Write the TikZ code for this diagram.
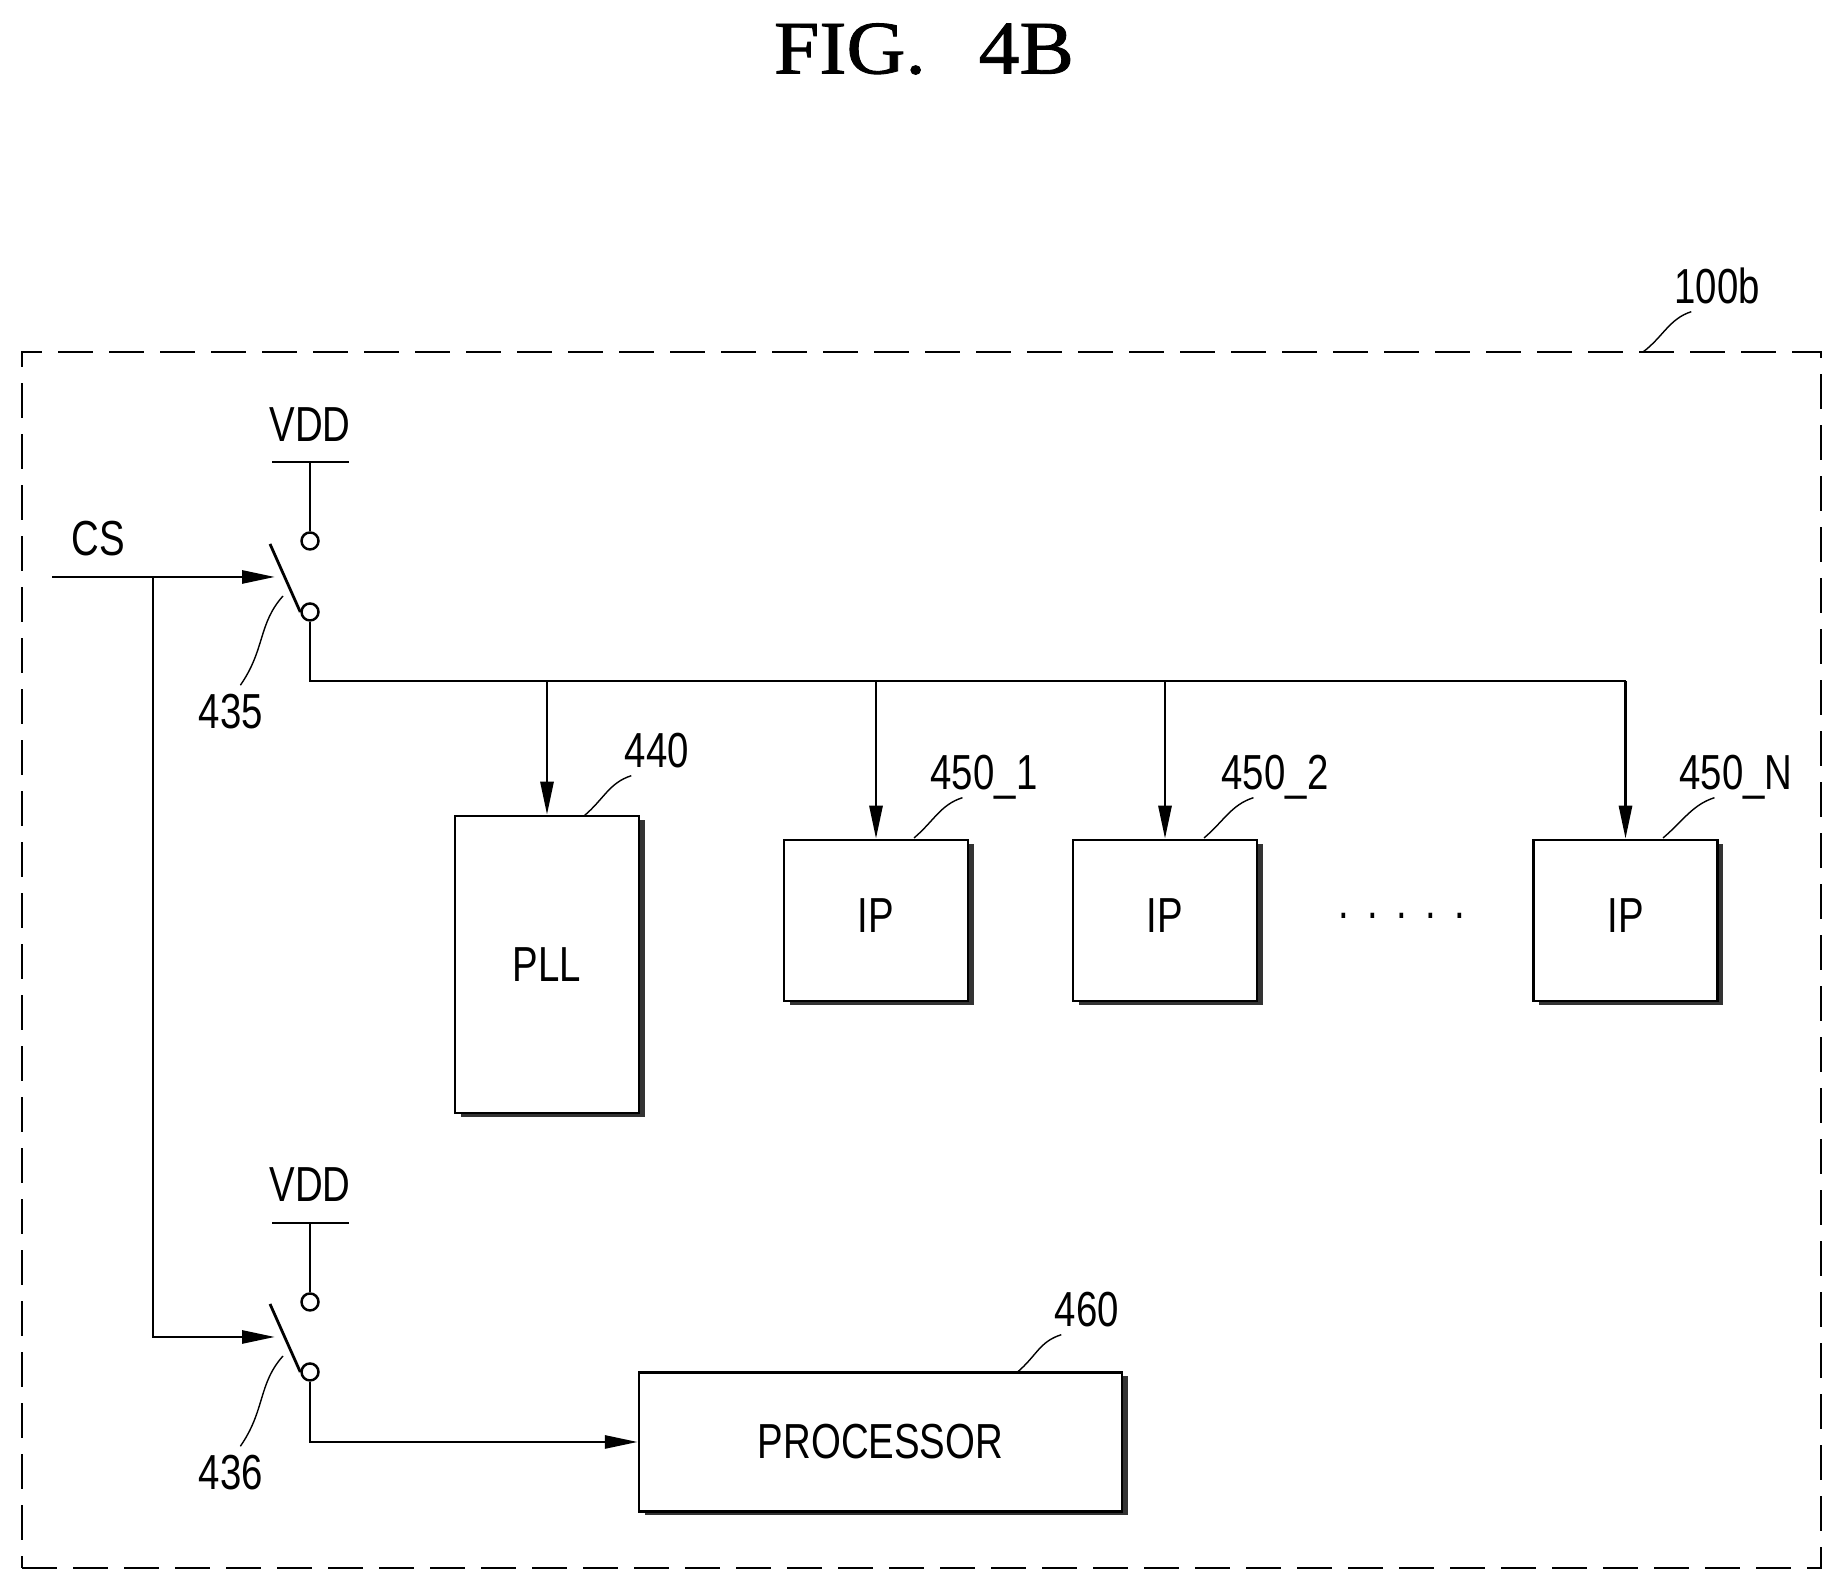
\documentclass[tikz,border=0pt]{standalone}
\usepackage{fontspec}
\setmainfont{Liberation Sans}[FakeStretch=0.78]
\newfontfamily\titlefont{Liberation Serif}[FakeStretch=1.08,FakeBold=1.2]
\usetikzlibrary{arrows.meta,shadows}

\begin{document}
\begin{tikzpicture}[
            >={Triangle[length=.33cm,width=.13cm]},
            wire/.style={line width=.8pt},
            lead/.style={line width=.4pt},
            lbl/.style={inner sep=2pt, text height=.36cm, text depth=0pt, font=\fontsize{14}{16}\selectfont},
            block/.style={draw, fill=white, line width=.7pt, inner sep=0pt, align=center,
                 font=\fontsize{14}{16}\selectfont,
                 general shadow={fill=black!80, shadow xshift=.055cm, shadow yshift=-.04cm}},
            ipblock/.style={block, minimum width=1.84cm, minimum height=1.61cm, text depth=.09cm},
            term/.style={draw, circle, fill=white, line width=.7pt, inner sep=0pt, minimum size=.17cm},
            chipframe/.style={draw, line width=.6pt, dash pattern=on .35cm off .16cm, inner sep=0pt,
                 minimum width=17.99cm, minimum height=12.16cm}
            ]
            \useasboundingbox (0,0) rectangle (18.42,15.89);

            % Title and outer frame
            \node[font=\titlefont\fontsize{21.5}{25}\selectfont] (title) at (9.24,15.40) {FIG.\hspace{.7em}4B};
            \node[chipframe] (chip) at (9.215,6.29) {};

            % Blocks with manual coordinates
            \node[block, minimum width=1.84cm, minimum height=2.97cm] (pll) at (5.47,6.245) {PLL};
            \node[ipblock] (ipa) at (8.76,6.685) {IP};
            \node[ipblock] (ipb) at (11.65,6.685) {IP};
            \node[ipblock] (ipn) at (16.255,6.685) {IP};
            \node[block, minimum width=4.83cm, minimum height=1.39cm] (proc) at (8.805,1.47) {PROCESSOR};
            \node[font=\fontsize{14}{16}\selectfont, inner sep=0pt, anchor=base] (dots) at (14.02,6.70) {.\hspace{5.2pt}.\hspace{5.2pt}.\hspace{5.2pt}.\hspace{5.2pt}.};

            % Switches
            \node[lbl] (vdda) at (3.10,11.65) {VDD};
            \node[term] (swat) at (3.10,10.48) {};
            \node[term] (swab) at (3.10,9.77) {};
            \node[lbl] (vddb) at (3.10,4.05) {VDD};
            \node[term] (swbt) at (3.10,2.87) {};
            \node[term] (swbb) at (3.10,2.17) {};
            \coordinate (vaa) at (2.72,11.27);
            \coordinate (vab) at (3.49,11.27);
            \coordinate (vba) at (2.72,3.66);
            \coordinate (vbb) at (3.49,3.66);
            \coordinate (swatip) at (2.70,10.45);
            \coordinate (swbtip) at (2.70,2.85);

            % Signal points
            \node[lbl] (cs) at (.98,10.51) {CS};
            \coordinate (csin) at (.52,10.12);
            \coordinate (csbr) at (1.53,10.12);
            \coordinate (swain) at (2.75,10.12);
            \coordinate (swbin) at (2.75,2.52);
            \coordinate (bus) at (3.10,9.08);

            % Reference numbers
            \node[lbl] (nchip) at (17.17,13.03) {100b};
            \node[lbl] (nsa) at (2.31,8.78) {435};
            \node[lbl] (nsb) at (2.31,1.17) {436};
            \node[lbl] (npll) at (6.57,8.39) {440};
            \node[lbl] (nipa) at (9.84,8.17) {450\_1};
            \node[lbl] (nipb) at (12.75,8.17) {450\_2};
            \node[lbl] (nipn) at (17.36,8.17) {450\_N};
            \node[lbl] (nproc) at (10.87,2.80) {460};

            % Leader ends
            \coordinate (lchip) at (16.43,12.37);
            \coordinate (lsa) at (2.83,9.93);
            \coordinate (lsb) at (2.83,2.33);
            \coordinate (lpll) at (5.84,7.73);
            \coordinate (lipa) at (9.14,7.51);
            \coordinate (lipb) at (12.04,7.51);
            \coordinate (lipn) at (16.63,7.51);
            \coordinate (lproc) at (10.17,2.165);

            % Arrows
            \draw[wire] (vaa) -- (vab);
            \draw[wire] (vba) -- (vbb);
            \draw[wire] (vdda.south |- vaa) -- (swat.north);
            \draw[wire] (vddb.south |- vba) -- (swbt.north);
            \draw[wire] (swatip) -- (swab.west);
            \draw[wire] (swbtip) -- (swbb.west);
            \draw[wire, ->] (csin) -- (swain);
            \draw[wire, ->] (csbr) |- (swbin);
            \draw[wire] (swab.south) -- (bus) -- (bus -| ipn.north);
            \draw[wire, ->] (bus -| pll.north) -- (pll.north);
            \draw[wire, ->] (bus -| ipa.north) -- (ipa.north);
            \draw[wire, ->] (bus -| ipb.north) -- (ipb.north);
            \draw[wire, ->] (bus -| ipn.north) -- (ipn.north);
            \draw[wire, ->] (swbb.south) |- (proc.west);

            % Leaders
            \draw[lead] (nchip.225) .. controls +(-.22,-.07) and +(.2,.15) .. (lchip);
            \draw[lead] (nsa.70) .. controls +(.25,.36) and +(-.25,-.28) .. (lsa);
            \draw[lead] (nsb.70) .. controls +(.25,.36) and +(-.25,-.28) .. (lsb);
            \draw[lead] (npll.225) .. controls +(-.22,-.07) and +(.2,.17) .. (lpll);
            \draw[lead] (nipa.230) .. controls +(-.22,-.07) and +(.2,.17) .. (lipa);
            \draw[lead] (nipb.230) .. controls +(-.22,-.07) and +(.2,.17) .. (lipb);
            \draw[lead] (nipn.230) .. controls +(-.22,-.07) and +(.2,.17) .. (lipn);
            \draw[lead] (nproc.225) .. controls +(-.22,-.07) and +(.2,.17) .. (lproc);
\end{tikzpicture}
\end{document}
